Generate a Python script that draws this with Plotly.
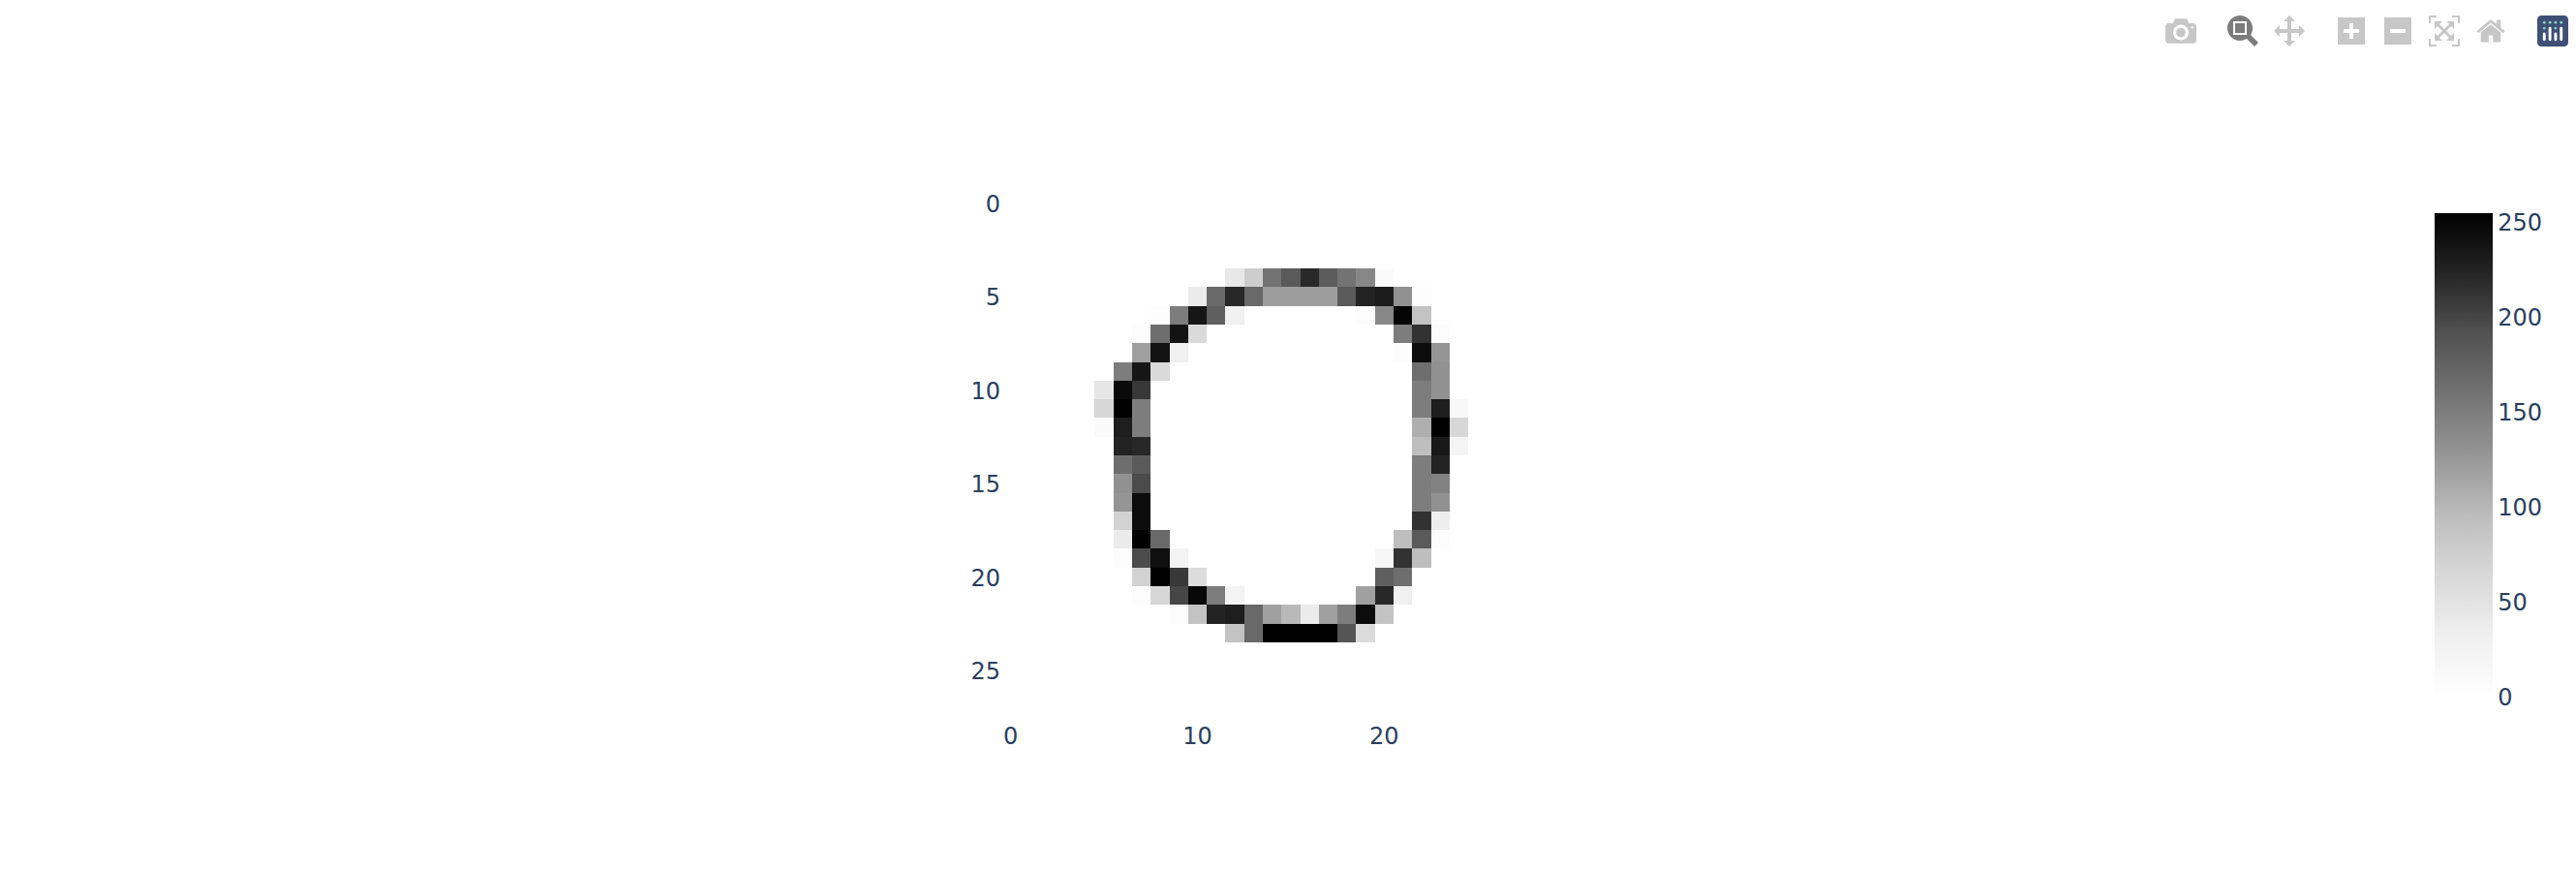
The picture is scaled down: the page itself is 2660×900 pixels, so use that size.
import plotly.graph_objects as go

blank = [0] * 28
r04 = [0]*12 + [43, 77, 159, 184, 220, 182, 159, 141, 11] + [0]*7
r05 = [0]*10 + [39, 169, 221, 169, 123, 123, 123, 123, 184, 225, 231, 132, 4] + [0]*5
r06 = [0]*8 + [4, 150, 236, 179, 32] + [0]*6 + [6, 141, 251, 89] + [0]*5
r07 = [0]*7 + [4, 164, 239, 62] + [0]*10 + [150, 214, 6] + [0]*4
r08 = [0]*7 + [119, 239, 32] + [0]*11 + [4, 245, 128] + [0]*4
r09 = [0]*6 + [150, 236, 62] + [0]*13 + [164, 132] + [0]*4
r10 = [0]*5 + [46, 246, 210] + [0]*14 + [150, 132] + [0]*4
r11 = [0]*5 + [66, 255, 150] + [0]*14 + [150, 229, 15] + [0]*3
r12 = [0]*5 + [11, 229, 150] + [0]*14 + [107, 255, 66] + [0]*3
r13 = [0]*6 + [225, 221] + [0]*14 + [95, 234, 21] + [0]*3
r14 = [0]*6 + [164, 184] + [0]*14 + [150, 225] + [0]*4
r15 = [0]*6 + [132, 196] + [0]*14 + [150, 146] + [0]*4
r16 = [0]*6 + [128, 245] + [0]*14 + [150, 132] + [0]*4
r17 = [0]*6 + [72, 245] + [0]*14 + [214, 35] + [0]*4
r18 = [0]*6 + [39, 255, 169] + [0]*12 + [95, 184, 6] + [0]*4
r19 = [0]*6 + [6, 196, 242, 26] + [0]*10 + [17, 214, 95] + [0]*5
r20 = [0]*7 + [72, 255, 210, 60] + [0]*9 + [179, 164] + [0]*6
r21 = [0]*7 + [4, 66, 200, 248, 150, 26] + [0]*6 + [119, 221, 32] + [0]*6
r22 = [0]*9 + [4, 89, 225, 229, 169, 119, 99, 39, 119, 150, 245, 89] + [0]*7
r23 = [0]*12 + [89, 169, 255, 255, 255, 255, 188, 60] + [0]*8

pixels = [blank, blank, blank, blank, r04, r05, r06, r07, r08, r09, r10, r11, r12,
          r13, r14, r15, r16, r17, r18, r19, r20, r21, r22, r23,
          blank, blank, blank, blank]
assert len(pixels) == 28 and all(len(r) == 28 for r in pixels)

fig = go.Figure(go.Heatmap(
    z=pixels,
    colorscale="Greys",
    reversescale=False,
    zmin=0,
    zmax=255,
    colorbar=dict(thickness=60, ypad=20, xpad=20, outlinewidth=0),
))
fig.update_layout(
    template="plotly",
    width=2660,
    height=900,
    font=dict(size=24, family="DejaVu Sans"),
    margin=dict(t=200, b=160, l=160, r=212),
    xaxis=dict(constrain="domain", scaleanchor="y", automargin=False, dtick=10, ticklabelstandoff=3),
    yaxis=dict(autorange="reversed", constrain="domain", automargin=False, dtick=5),
)
page_css = """
var s = document.createElement('style');
s.textContent = 'body{margin:0}'
  + '.modebar{transform:translate(2px,8px) scale(2);transform-origin:top right}'
  + '.yaxislayer-above{transform:translateY(1px)}';
document.head.appendChild(s);
function recolorLogo() {
  document.querySelectorAll('.plotlyjsicon svg rect, .plotlyjsicon svg path, .plotlyjsicon svg circle').forEach(function (el) {
    var f = getComputedStyle(el).fill;
    if (f === 'rgb(0, 0, 0)') { el.style.fill = '#3f4f75'; }
    else if (f !== 'rgb(255, 255, 255)' && f !== 'none' && f !== 'rgb(63, 79, 117)') { el.style.fill = '#80cfbe'; }
  });
}
recolorLogo();
setTimeout(recolorLogo, 50);
setTimeout(recolorLogo, 400);
"""
fig.write_html("out.html", config={"displayModeBar": True}, post_script=page_css)
